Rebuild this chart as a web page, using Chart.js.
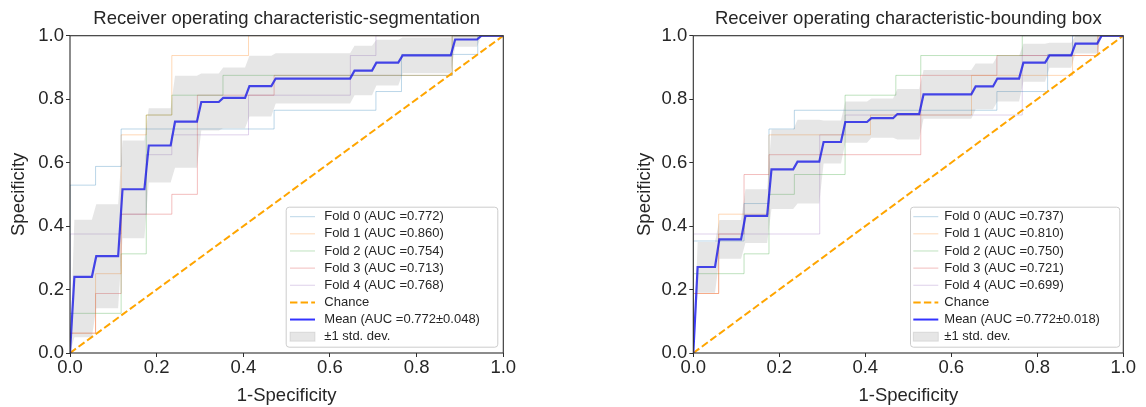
<!DOCTYPE html>
<html><head><meta charset="utf-8">
<script src="https://cdn.jsdelivr.net/npm/chart.js@4.4.1/dist/chart.umd.min.js"></script>
<style>
html,body{margin:0;padding:0;background:#fff;}
#wrap{position:relative;width:1146px;height:407px;overflow:hidden;background:#fff;}
canvas{position:absolute;top:0;}
</style></head><body>
<div id="wrap">
<canvas id="c1" width="573" height="407" style="left:0px"></canvas>
<canvas id="c2" width="573" height="407" style="left:573px"></canvas>
</div>
<script>
// ---------- tick labels ----------
const tickValues = [0.0, 0.2, 0.4, 0.6, 0.8, 1.0];

// ---------- LEFT: segmentation ----------
const segTitle = 'Receiver operating characteristic-segmentation';
const segLabels = ['Fold 0 (AUC =0.772)', 'Fold 1 (AUC =0.860)', 'Fold 2 (AUC =0.754)', 'Fold 3 (AUC =0.713)', 'Fold 4 (AUC =0.768)', 'Chance', 'Mean (AUC =0.772\u00b10.048)', '\u00b11 std. dev.'];

const segFold0Fpr = [0, 0, .059, .059, .118, .118, .471, .471, .706, .706, .765, .765, .941, .941, 1];
const segFold0Tpr = [0, .529, .529, .588, .588, .706, .706, .765, .765, .824, .824, .941, .941, 1, 1];
const segFold1Fpr = [0, 0, .059, .059, .118, .118, .176, .176, .235, .235, .412, .412, 1];
const segFold1Tpr = [0, .0625, .0625, .25, .25, .6875, .6875, .75, .75, .9375, .9375, 1, 1];
const segFold2Fpr = [0, 0, .118, .118, .176, .176, .235, .235, .353, .353, .882, .882, 1];
const segFold2Tpr = [0, .125, .125, .3125, .3125, .75, .75, .8125, .8125, .875, .875, 1, 1];
const segFold3Fpr = [0, 0, .059, .059, .118, .118, .235, .235, .294, .294, .471, .471, .882, .882, 1];
const segFold3Tpr = [0, .0625, .0625, .1875, .1875, .4375, .4375, .5, .5, .8125, .8125, .875, .875, 1, 1];
const segFold4Fpr = [0, 0, .118, .118, .176, .176, .235, .235, .412, .412, .647, .647, .706, .706, 1];
const segFold4Tpr = [0, .375, .375, .4375, .4375, .625, .625, .6875, .6875, .8125, .8125, .9375, .9375, 1, 1];

const segMeanFpr = [0, .0101, .0505, .0606, .1111, .1212, .1717, .1818, .2323, .2424, .2929, .303, .3434, .3535, .404, .4141, .4646, .4747, .6465, .6566, .697, .7071, .7576, .7677, .8788, .8889, .9394, .9495, 1];
const segMeanTpr = [0, .24, .24, .305, .305, .516, .516, .654, .654, .729, .729, .791, .791, .804, .804, .841, .841, .865, .865, .89, .89, .915, .915, .938, .938, .988, .988, 1, 1];
const segUpper = [0, .42, .42, .469, .469, .67, .67, .771, .771, .874, .874, .881, .881, .9, .9, .937, .937, .945, .945, .968, .968, .987, .987, .994, .994, 1, 1, 1, 1];
const segLower = [0, .05, .05, .141, .141, .362, .362, .537, .537, .584, .584, .701, .701, .708, .708, .745, .745, .786, .786, .812, .812, .843, .843, .882, .882, .965, .965, 1, 1];

// ---------- RIGHT: bounding box ----------
const boxTitle = 'Receiver operating characteristic-bounding box';
const boxLabels = ['Fold 0 (AUC =0.737)', 'Fold 1 (AUC =0.810)', 'Fold 2 (AUC =0.750)', 'Fold 3 (AUC =0.721)', 'Fold 4 (AUC =0.699)', 'Chance', 'Mean (AUC =0.772\u00b10.018)', '\u00b11 std. dev.'];

const boxFold0Fpr = [0, 0, .118, .118, .176, .176, .235, .235, .706, .706, .824, .824, .882, .882, 1];
const boxFold0Tpr = [0, .353, .353, .471, .471, .706, .706, .765, .765, .824, .824, .941, .941, 1, 1];
const boxFold1Fpr = [0, 0, .059, .059, .176, .176, .412, .412, .647, .647, .882, .882, .941, .941, 1];
const boxFold1Tpr = [0, .1875, .1875, .4375, .4375, .6875, .6875, .75, .75, .875, .875, .9375, .9375, 1, 1];
const boxFold2Fpr = [0, 0, .118, .118, .176, .176, .235, .235, .353, .353, .471, .471, .529, .529, .765, .765, 1];
const boxFold2Tpr = [0, .25, .25, .3125, .3125, .5, .5, .5625, .5625, .8125, .8125, .875, .875, .9375, .9375, 1, 1];
const boxFold3Fpr = [0, 0, .059, .059, .118, .118, .176, .176, .529, .529, .706, .706, .941, .941, 1];
const boxFold3Tpr = [0, .1875, .1875, .375, .375, .5625, .5625, .625, .625, .875, .875, .9375, .9375, 1, 1];
const boxFold4Fpr = [0, 0, .294, .294, .353, .353, .765, .765, .882, .882, 1];
const boxFold4Tpr = [0, .375, .375, .6875, .6875, .75, .75, .9375, .9375, 1, 1];

const boxMeanFpr = [0, .0101, .0505, .0606, .1111, .1212, .1717, .1818, .2323, .2424, .2929, .303, .3434, .3535, .404, .4141, .4646, .4747, .5253, .5354, .6465, .6566, .697, .7071, .7576, .7677, .8182, .8283, .8788, .8889, .9394, .9495, 1];
const boxMeanTpr = [0, .271, .271, .358, .358, .432, .432, .579, .579, .603, .603, .665, .665, .728, .728, .74, .74, .753, .753, .815, .815, .84, .84, .865, .865, .915, .915, .938, .938, .975, .975, 1, 1];
const boxUpper = [0, .35, .35, .419, .419, .516, .516, .704, .704, .735, .735, .733, .733, .793, .793, .802, .802, .832, .832, .892, .892, .912, .912, .936, .936, .975, .975, .978, .978, 1, 1, 1, 1];
const boxLower = [0, .19, .19, .297, .297, .347, .347, .454, .454, .471, .471, .597, .597, .663, .663, .678, .678, .673, .673, .738, .738, .768, .768, .793, .793, .855, .855, .899, .899, .944, .944, 1, 1];

const chanceX = [0, 1];
const chanceY = [0, 1];

// ---------- styling ----------
const FONT = '"Liberation Sans", Arial, Helvetica, sans-serif';
const TXT = '#262626';
const AX = '#2e2e2e';
const foldColors = ['rgba(31,119,180,0.3)', 'rgba(255,127,14,0.3)', 'rgba(44,160,44,0.3)', 'rgba(214,39,40,0.3)', 'rgba(148,103,189,0.3)'];
const chanceColor = '#FFA500';
const meanColor = 'rgba(0,0,255,0.8)';
const bandColor = 'rgba(128,128,128,0.2)';

const pts = (xs, ys) => xs.map((x, i) => ({x: x, y: ys[i]}));

const titlePlugin = {
  id: 'ptitle',
  afterDraw(chart) {
    const o = chart.options.plugins.ptitle; if (!o) return;
    const a = chart.chartArea, ctx = chart.ctx;
    ctx.save();
    ctx.font = '18.5px ' + FONT;
    ctx.fillStyle = TXT; ctx.textAlign = 'center'; ctx.textBaseline = 'middle';
    ctx.fillText(o.text, (a.left + a.right) / 2, o.y);
    ctx.restore();
  }
};
const framePlugin = {
  id: 'pframe',
  afterDatasetsDraw(chart) {
    const a = chart.chartArea, ctx = chart.ctx;
    ctx.save();
    ctx.strokeStyle = AX; ctx.lineWidth = 1.1;
    ctx.strokeRect(a.left, a.top, a.right - a.left, a.bottom - a.top);
    ctx.restore();
  }
};
const legendPlugin = {
  id: 'plegend',
  afterDraw(chart) {
    const o = chart.options.plugins.plegend; if (!o) return;
    const a = chart.chartArea, ctx = chart.ctx;
    const w = o.w, h = 140;
    const x0 = a.right - o.gap - w, y0 = a.bottom - 6.3 - h;
    ctx.save();
    ctx.beginPath();
    ctx.roundRect(x0 + 0.5, y0 + 0.5, w, h, 3);
    ctx.fillStyle = 'rgba(255,255,255,0.8)'; ctx.fill();
    ctx.strokeStyle = '#cccccc'; ctx.lineWidth = 1; ctx.stroke();
    const hx0 = x0 + o.hx, hx1 = hx0 + 25, tx = x0 + o.tx;
    ctx.font = '13px ' + FONT; ctx.textBaseline = 'middle'; ctx.textAlign = 'left';
    o.labels.forEach((lab, i) => {
      const cy = y0 + 10 + i * 17.14;
      ctx.save();
      if (i < 5) {
        ctx.strokeStyle = foldColors[i]; ctx.lineWidth = 1;
        ctx.beginPath(); ctx.moveTo(hx0, cy); ctx.lineTo(hx1, cy); ctx.stroke();
      } else if (i === 5) {
        ctx.strokeStyle = chanceColor; ctx.lineWidth = 2; ctx.setLineDash([7.4, 3.2]);
        ctx.beginPath(); ctx.moveTo(hx0, cy); ctx.lineTo(hx1, cy); ctx.stroke();
      } else if (i === 6) {
        ctx.strokeStyle = meanColor; ctx.lineWidth = 2;
        ctx.beginPath(); ctx.moveTo(hx0, cy); ctx.lineTo(hx1, cy); ctx.stroke();
      } else {
        ctx.fillStyle = bandColor; ctx.fillRect(hx0, cy - 4.5, 25, 9);
        ctx.strokeStyle = bandColor; ctx.lineWidth = 1; ctx.strokeRect(hx0, cy - 4.5, 25, 9);
      }
      ctx.restore();
      ctx.fillStyle = TXT;
      ctx.fillText(lab, tx, cy);
    });
    ctx.restore();
  }
};

function makeChart(id, d) {
  const datasets = [];
  d.folds.forEach((f, i) => datasets.push({
    data: pts(f[0], f[1]), borderColor: foldColors[i], borderWidth: 1, pointRadius: 0, fill: false, order: 10
  }));
  datasets.push({data: pts(chanceX, chanceY), borderColor: chanceColor, borderWidth: 2, borderDash: [7.4, 3.2], pointRadius: 0, fill: false, order: 6});
  datasets.push({data: pts(d.meanX, d.meanY), borderColor: meanColor, borderWidth: 2.2, pointRadius: 0, fill: false, order: 4});
  datasets.push({data: pts(d.meanX, d.lower), borderColor: 'rgba(0,0,0,0)', borderWidth: 0, pointRadius: 0, fill: false, order: 2});
  datasets.push({data: pts(d.meanX, d.upper), borderColor: 'rgba(0,0,0,0)', borderWidth: 0, pointRadius: 0, fill: '-1', backgroundColor: bandColor, order: 1});

  const tickFont = {family: FONT, size: 18.5};
  return new Chart(document.getElementById(id), {
    type: 'line',
    data: {datasets: datasets},
    options: {
      responsive: false, animation: false, devicePixelRatio: 1,
      layout: {padding: {left: d.padLeft, right: d.padRight, top: 35.7, bottom: 0}},
      elements: {line: {tension: 0}},
      plugins: {
        legend: {display: false}, tooltip: {enabled: false}, title: {display: false},
        ptitle: {text: d.title, y: 19},
        plegend: {labels: d.labels, w: d.lw, gap: d.lgap, hx: d.lhx, tx: d.ltx}
      },
      scales: {
        x: {
          type: 'linear', min: 0, max: 1,
          afterBuildTicks: (s) => { s.ticks = tickValues.map(v => ({value: v})); },
          afterFit: (s) => { s.height = 54; },
          ticks: {callback: (v) => Number(v).toFixed(1), font: tickFont, color: TXT, padding: 0, maxRotation: 0, autoSkip: false},
          grid: {display: true, drawOnChartArea: false, drawTicks: true, tickLength: 4, color: AX, tickColor: AX, tickWidth: 1},
          border: {display: false},
          title: {display: true, text: '1-Specificity', font: tickFont, color: TXT, padding: {top: 0, bottom: 0}}
        },
        y: {
          type: 'linear', min: 0, max: 1,
          afterBuildTicks: (s) => { s.ticks = tickValues.map(v => ({value: v})); },
          afterFit: (s) => { s.width = d.yw; },
          ticks: {callback: (v) => Number(v).toFixed(1), font: tickFont, color: TXT, padding: 2},
          grid: {display: true, drawOnChartArea: false, drawTicks: true, tickLength: 4, color: AX, tickColor: AX, tickWidth: 1},
          border: {display: false},
          title: {display: true, text: 'Specificity', font: tickFont, color: TXT, padding: {top: 7.4, bottom: 0}}
        }
      }
    },
    plugins: [titlePlugin, framePlugin, legendPlugin]
  });
}

makeChart('c1', {
  title: segTitle, labels: segLabels,
  folds: [[segFold0Fpr, segFold0Tpr], [segFold1Fpr, segFold1Tpr], [segFold2Fpr, segFold2Tpr], [segFold3Fpr, segFold3Tpr], [segFold4Fpr, segFold4Tpr]],
  meanX: segMeanFpr, meanY: segMeanTpr, upper: segUpper, lower: segLower,
  padLeft: 0, yw: 70, padRight: 573 - 503.3,
  lw: 211.6, lgap: 6, lhx: 4.3, ltx: 38.6
});
makeChart('c2', {
  title: boxTitle, labels: boxLabels,
  folds: [[boxFold0Fpr, boxFold0Tpr], [boxFold1Fpr, boxFold1Tpr], [boxFold2Fpr, boxFold2Tpr], [boxFold3Fpr, boxFold3Tpr], [boxFold4Fpr, boxFold4Tpr]],
  meanX: boxMeanFpr, meanY: boxMeanTpr, upper: boxUpper, lower: boxLower,
  padLeft: 53, yw: 120.3 - 53, padRight: 573 - 550.3,
  lw: 209.3, lgap: 4, lhx: 3.3, ltx: 34.3
});
</script>
</body></html>
